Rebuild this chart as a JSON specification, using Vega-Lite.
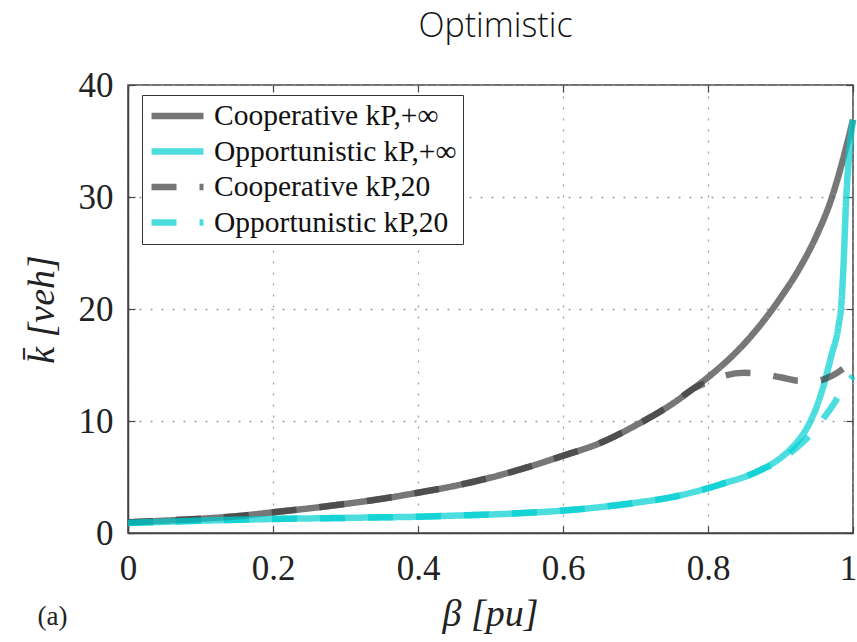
{
  "$schema": "https://vega.github.io/schema/vega-lite/v6.json",
  "width": 725,
  "height": 448,
  "autosize": {"type": "none"},
  "padding": {"left": 128, "top": 85, "right": 4, "bottom": 109},
  "background": "white",
  "title": {
    "text": "Optimistic",
    "font": "Open Sans",
    "fontSize": 34,
    "fontWeight": 300,
    "color": "#111111",
    "anchor": "middle",
    "frame": "group",
    "baseline": "alphabetic",
    "offset": 30,
    "dx": 5,
    "dy": 33
  },
  "config": {
    "view": {"stroke": "#444444", "strokeWidth": 1.5},
    "axis": {
      "labelFont": "Liberation Serif",
      "labelFontSize": 35,
      "labelColor": "#222222",
      "tickColor": "#444444",
      "tickWidth": 1.2,
      "tickSize": -7,
      "domainColor": "#444444",
      "domainWidth": 1.5,
      "gridColor": "#a0a0a0",
      "gridDash": [2, 9],
      "gridWidth": 1.3,
      "titleFont": "Liberation Serif",
      "titleFontWeight": "normal",
      "titleColor": "#222222"
    }
  },
  "data": {
    "values": [
      {"beta": 0.0, "k": 0.95, "series": "Cooperative kP,+∞"},
      {"beta": 0.05, "k": 1.1, "series": "Cooperative kP,+∞"},
      {"beta": 0.1, "k": 1.27, "series": "Cooperative kP,+∞"},
      {"beta": 0.15, "k": 1.5, "series": "Cooperative kP,+∞"},
      {"beta": 0.2, "k": 1.85, "series": "Cooperative kP,+∞"},
      {"beta": 0.25, "k": 2.2, "series": "Cooperative kP,+∞"},
      {"beta": 0.3, "k": 2.6, "series": "Cooperative kP,+∞"},
      {"beta": 0.35, "k": 3.05, "series": "Cooperative kP,+∞"},
      {"beta": 0.4, "k": 3.6, "series": "Cooperative kP,+∞"},
      {"beta": 0.45, "k": 4.2, "series": "Cooperative kP,+∞"},
      {"beta": 0.5, "k": 4.95, "series": "Cooperative kP,+∞"},
      {"beta": 0.55, "k": 5.85, "series": "Cooperative kP,+∞"},
      {"beta": 0.6, "k": 6.9, "series": "Cooperative kP,+∞"},
      {"beta": 0.65, "k": 8.0, "series": "Cooperative kP,+∞"},
      {"beta": 0.7, "k": 9.6, "series": "Cooperative kP,+∞"},
      {"beta": 0.75, "k": 11.5, "series": "Cooperative kP,+∞"},
      {"beta": 0.78, "k": 12.9, "series": "Cooperative kP,+∞"},
      {"beta": 0.8, "k": 13.9, "series": "Cooperative kP,+∞"},
      {"beta": 0.85, "k": 16.9, "series": "Cooperative kP,+∞"},
      {"beta": 0.875, "k": 18.8, "series": "Cooperative kP,+∞"},
      {"beta": 0.9, "k": 21.0, "series": "Cooperative kP,+∞"},
      {"beta": 0.925, "k": 23.5, "series": "Cooperative kP,+∞"},
      {"beta": 0.95, "k": 26.6, "series": "Cooperative kP,+∞"},
      {"beta": 0.97, "k": 29.8, "series": "Cooperative kP,+∞"},
      {"beta": 0.98, "k": 31.9, "series": "Cooperative kP,+∞"},
      {"beta": 0.99, "k": 34.3, "series": "Cooperative kP,+∞"},
      {"beta": 1.0, "k": 36.9, "series": "Cooperative kP,+∞"},

      {"beta": 0.0, "k": 0.9, "series": "Opportunistic kP,+∞"},
      {"beta": 0.05, "k": 1.0, "series": "Opportunistic kP,+∞"},
      {"beta": 0.1, "k": 1.1, "series": "Opportunistic kP,+∞"},
      {"beta": 0.15, "k": 1.18, "series": "Opportunistic kP,+∞"},
      {"beta": 0.2, "k": 1.25, "series": "Opportunistic kP,+∞"},
      {"beta": 0.25, "k": 1.3, "series": "Opportunistic kP,+∞"},
      {"beta": 0.3, "k": 1.35, "series": "Opportunistic kP,+∞"},
      {"beta": 0.35, "k": 1.4, "series": "Opportunistic kP,+∞"},
      {"beta": 0.4, "k": 1.45, "series": "Opportunistic kP,+∞"},
      {"beta": 0.45, "k": 1.55, "series": "Opportunistic kP,+∞"},
      {"beta": 0.5, "k": 1.65, "series": "Opportunistic kP,+∞"},
      {"beta": 0.55, "k": 1.8, "series": "Opportunistic kP,+∞"},
      {"beta": 0.6, "k": 2.0, "series": "Opportunistic kP,+∞"},
      {"beta": 0.65, "k": 2.3, "series": "Opportunistic kP,+∞"},
      {"beta": 0.7, "k": 2.7, "series": "Opportunistic kP,+∞"},
      {"beta": 0.75, "k": 3.2, "series": "Opportunistic kP,+∞"},
      {"beta": 0.8, "k": 4.0, "series": "Opportunistic kP,+∞"},
      {"beta": 0.825, "k": 4.5, "series": "Opportunistic kP,+∞"},
      {"beta": 0.85, "k": 5.0, "series": "Opportunistic kP,+∞"},
      {"beta": 0.875, "k": 5.7, "series": "Opportunistic kP,+∞"},
      {"beta": 0.9, "k": 6.7, "series": "Opportunistic kP,+∞"},
      {"beta": 0.92, "k": 7.9, "series": "Opportunistic kP,+∞"},
      {"beta": 0.94, "k": 9.8, "series": "Opportunistic kP,+∞"},
      {"beta": 0.95, "k": 11.3, "series": "Opportunistic kP,+∞"},
      {"beta": 0.96, "k": 13.3, "series": "Opportunistic kP,+∞"},
      {"beta": 0.97, "k": 15.8, "series": "Opportunistic kP,+∞"},
      {"beta": 0.98, "k": 18.5, "series": "Opportunistic kP,+∞"},
      {"beta": 0.984, "k": 20.5, "series": "Opportunistic kP,+∞"},
      {"beta": 0.987, "k": 24.0, "series": "Opportunistic kP,+∞"},
      {"beta": 0.99, "k": 29.0, "series": "Opportunistic kP,+∞"},
      {"beta": 0.995, "k": 34.0, "series": "Opportunistic kP,+∞"},
      {"beta": 1.0, "k": 36.9, "series": "Opportunistic kP,+∞"},

      {"beta": 0.0, "k": 0.95, "series": "Cooperative kP,20"},
      {"beta": 0.05, "k": 1.1, "series": "Cooperative kP,20"},
      {"beta": 0.1, "k": 1.27, "series": "Cooperative kP,20"},
      {"beta": 0.15, "k": 1.5, "series": "Cooperative kP,20"},
      {"beta": 0.2, "k": 1.85, "series": "Cooperative kP,20"},
      {"beta": 0.25, "k": 2.2, "series": "Cooperative kP,20"},
      {"beta": 0.3, "k": 2.6, "series": "Cooperative kP,20"},
      {"beta": 0.35, "k": 3.05, "series": "Cooperative kP,20"},
      {"beta": 0.4, "k": 3.6, "series": "Cooperative kP,20"},
      {"beta": 0.45, "k": 4.2, "series": "Cooperative kP,20"},
      {"beta": 0.5, "k": 4.95, "series": "Cooperative kP,20"},
      {"beta": 0.55, "k": 5.85, "series": "Cooperative kP,20"},
      {"beta": 0.6, "k": 6.9, "series": "Cooperative kP,20"},
      {"beta": 0.65, "k": 8.0, "series": "Cooperative kP,20"},
      {"beta": 0.7, "k": 9.6, "series": "Cooperative kP,20"},
      {"beta": 0.75, "k": 11.5, "series": "Cooperative kP,20"},
      {"beta": 0.78, "k": 12.9, "series": "Cooperative kP,20"},
      {"beta": 0.8, "k": 13.5, "series": "Cooperative kP,20"},
      {"beta": 0.82, "k": 14.0, "series": "Cooperative kP,20"},
      {"beta": 0.85, "k": 14.3, "series": "Cooperative kP,20"},
      {"beta": 0.875, "k": 14.2, "series": "Cooperative kP,20"},
      {"beta": 0.9, "k": 13.9, "series": "Cooperative kP,20"},
      {"beta": 0.925, "k": 13.6, "series": "Cooperative kP,20"},
      {"beta": 0.95, "k": 13.6, "series": "Cooperative kP,20"},
      {"beta": 0.97, "k": 14.0, "series": "Cooperative kP,20"},
      {"beta": 0.985, "k": 14.6, "series": "Cooperative kP,20"},
      {"beta": 1.0, "k": 15.3, "series": "Cooperative kP,20"},

      {"beta": 0.0, "k": 0.9, "series": "Opportunistic kP,20"},
      {"beta": 0.05, "k": 1.0, "series": "Opportunistic kP,20"},
      {"beta": 0.1, "k": 1.1, "series": "Opportunistic kP,20"},
      {"beta": 0.15, "k": 1.18, "series": "Opportunistic kP,20"},
      {"beta": 0.2, "k": 1.25, "series": "Opportunistic kP,20"},
      {"beta": 0.25, "k": 1.3, "series": "Opportunistic kP,20"},
      {"beta": 0.3, "k": 1.35, "series": "Opportunistic kP,20"},
      {"beta": 0.35, "k": 1.4, "series": "Opportunistic kP,20"},
      {"beta": 0.4, "k": 1.45, "series": "Opportunistic kP,20"},
      {"beta": 0.45, "k": 1.55, "series": "Opportunistic kP,20"},
      {"beta": 0.5, "k": 1.65, "series": "Opportunistic kP,20"},
      {"beta": 0.55, "k": 1.8, "series": "Opportunistic kP,20"},
      {"beta": 0.6, "k": 2.0, "series": "Opportunistic kP,20"},
      {"beta": 0.65, "k": 2.3, "series": "Opportunistic kP,20"},
      {"beta": 0.7, "k": 2.7, "series": "Opportunistic kP,20"},
      {"beta": 0.75, "k": 3.2, "series": "Opportunistic kP,20"},
      {"beta": 0.8, "k": 4.0, "series": "Opportunistic kP,20"},
      {"beta": 0.825, "k": 4.5, "series": "Opportunistic kP,20"},
      {"beta": 0.85, "k": 5.0, "series": "Opportunistic kP,20"},
      {"beta": 0.875, "k": 5.7, "series": "Opportunistic kP,20"},
      {"beta": 0.9, "k": 6.5, "series": "Opportunistic kP,20"},
      {"beta": 0.92, "k": 7.5, "series": "Opportunistic kP,20"},
      {"beta": 0.94, "k": 8.7, "series": "Opportunistic kP,20"},
      {"beta": 0.96, "k": 10.3, "series": "Opportunistic kP,20"},
      {"beta": 0.97, "k": 11.2, "series": "Opportunistic kP,20"},
      {"beta": 0.98, "k": 12.2, "series": "Opportunistic kP,20"},
      {"beta": 0.99, "k": 13.2, "series": "Opportunistic kP,20"},
      {"beta": 1.0, "k": 14.0, "series": "Opportunistic kP,20"}
    ]
  },
  "layer": [
    {
      "mark": {"type": "line", "strokeWidth": 6.5, "opacity": 0.7, "strokeCap": "butt", "interpolate": "monotone", "clip": false},
      "encoding": {
        "x": {
          "field": "beta",
          "type": "quantitative",
          "scale": {"domain": [0, 1], "nice": false, "zero": false},
          "axis": {
            "orient": "bottom",
            "values": [0, 0.2, 0.4, 0.6, 0.8, 1],
            "format": "~g",
            "labelFlush": false,
            "labelPadding": 25,
            "labelOffset": {"condition": {"test": "datum.value === 1", "value": -5}, "value": 0},
            "grid": true,
            "title": "β  [pu]",
            "titleFontStyle": "italic",
            "titleFontSize": 38,
            "titleX": 362,
            "titleY": 81,
            "titleAlign": "center",
            "titleBaseline": "middle"
          }
        },
        "y": {
          "field": "k",
          "type": "quantitative",
          "scale": {"domain": [0, 40], "nice": false, "zero": false},
          "axis": {
            "orient": "left",
            "values": [0, 10, 20, 30, 40],
            "labelPadding": 22,
            "labelFlush": false,
            "grid": true,
            "title": "k̄  [veh]",
            "titleFontStyle": "italic",
            "titleFontSize": 38,
            "titleAngle": 270,
            "titleX": -86,
            "titleY": 224,
            "titleAlign": "center",
            "titleBaseline": "middle"
          }
        },
        "color": {
          "field": "series",
          "type": "nominal",
          "scale": {
            "domain": ["Cooperative kP,+∞", "Opportunistic kP,+∞", "Cooperative kP,20", "Opportunistic kP,20"],
            "range": ["#3d3d3d", "#00ced1", "#3d3d3d", "#00ced1"]
          },
          "legend": {
            "title": null,
            "orient": "none",
            "legendX": 14,
            "legendY": 10,
            "padding": 6,
            "fillColor": "white",
            "strokeColor": "#333333",
            "symbolType": "stroke",
            "symbolSize": 2700,
            "symbolStrokeWidth": 6.5,
            "symbolOpacity": 0.7,
            "clipHeight": 30,
            "rowPadding": 5.5,
            "labelOffset": 7,
            "labelFont": "Liberation Serif",
            "labelFontSize": 29.5,
            "labelColor": "#111111",
            "labelLimit": 400
          }
        },
        "strokeDash": {
          "field": "series",
          "type": "nominal",
          "scale": {
            "domain": ["Cooperative kP,+∞", "Opportunistic kP,+∞", "Cooperative kP,20", "Opportunistic kP,20"],
            "range": [[1, 0], [1, 0], [25, 23], [25, 23]]
          },
          "legend": {
            "title": null,
            "orient": "none",
            "legendX": 14,
            "legendY": 10,
            "padding": 6,
            "fillColor": "white",
            "strokeColor": "#333333",
            "symbolType": "stroke",
            "symbolSize": 2700,
            "symbolStrokeWidth": 6.5,
            "symbolOpacity": 0.7,
            "clipHeight": 30,
            "rowPadding": 5.5,
            "labelOffset": 7,
            "labelFont": "Liberation Serif",
            "labelFontSize": 29.5,
            "labelColor": "#111111",
            "labelLimit": 400
          }
        }
      }
    },
    {
      "mark": {"type": "line", "opacity": 0},
      "encoding": {
        "x": {
          "field": "beta",
          "type": "quantitative",
          "axis": {
            "orient": "top",
            "values": [0, 0.2, 0.4, 0.6, 0.8, 1],
            "labels": false,
            "domain": false,
            "grid": false,
            "title": "(a)",
            "titleFontSize": 27,
            "titleFontStyle": "normal",
            "titleX": -76,
            "titleY": 531,
            "titleAlign": "center",
            "titleBaseline": "middle"
          }
        },
        "y": {
          "field": "k",
          "type": "quantitative",
          "axis": {
            "orient": "right",
            "values": [0, 10, 20, 30, 40],
            "labels": false,
            "domain": false,
            "grid": false,
            "title": null
          }
        }
      }
    }
  ]
}
